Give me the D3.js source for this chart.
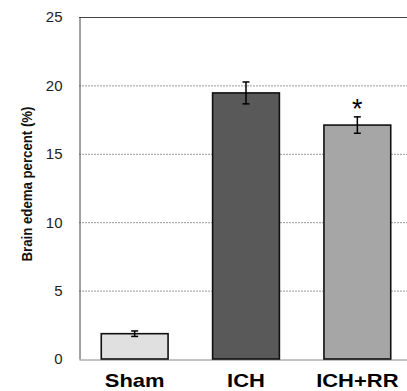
<!DOCTYPE html>
<html>
<head>
<meta charset="utf-8">
<script src="https://cdn.jsdelivr.net/npm/d3@7"></script>
<style>
  body { margin: 0; background: #fff; }
  svg { display: block; }
</style>
</head>
<body>
<div id="viz_tool"></div>
<script>
// data
var groups = ["Sham", "ICH", "ICH+RR"];
var means = [1.85, 19.45, 17.1];
var errors = [0.2, 0.8, 0.6];
var fills = ["#e0e0e0", "#595959", "#a6a6a6"];
var marks = ["", "", "*"];
var yTicks = [0, 5, 10, 15, 20, 25];

var W = 407, H = 391;
var margin = {top: 17, right: -6, bottom: 32, left: 79},
    width = W - margin.left - margin.right,
    height = H - margin.top - margin.bottom;

var svg = d3.select("#viz_tool")
  .append("svg")
    .attr("width", W)
    .attr("height", H)
  .append("g")
    .attr("transform", "translate(" + margin.left + "," + margin.top + ")");

var xScale = d3.scaleBand()
               .domain(groups)
               .range([0, width])
               .paddingInner(0.4)
               .paddingOuter(0.2);

var yScale = d3.scaleLinear()
               .domain([0, 25])
               .range([height, 0]);

// dashed gridlines
svg.append("g")
   .selectAll("line")
   .data(yTicks.filter(function(t) { return t > 0 && t < 25; }))
   .enter()
   .append("line")
   .attr("x1", 0)
   .attr("x2", width)
   .attr("y1", function(d) { return yScale(d) + 0.5; })
   .attr("y2", function(d) { return yScale(d) + 0.5; })
   .attr("stroke", "#9a9a9a")
   .attr("stroke-dasharray", "2,1");

// top border
svg.append("line")
   .attr("x1", 0).attr("x2", width)
   .attr("y1", yScale(25) + 0.5).attr("y2", yScale(25) + 0.5)
   .attr("stroke", "#444");

// y axis
var yAxis = svg.append("g")
   .attr("transform", "translate(0.5,0)")
   .call(d3.axisLeft(yScale).tickValues(yTicks).tickSize(0).tickPadding(17));
yAxis.select(".domain").attr("stroke", "#444");
yAxis.selectAll("text")
   .attr("font-family", "Liberation Sans, Arial, sans-serif")
   .attr("font-size", "15px")
   .attr("fill", "#222");

// x axis, labels are stretched sideways like in the original
var xAxis = svg.append("g")
   .attr("transform", "translate(0," + (height + 0.5) + ")")
   .call(d3.axisBottom(xScale).tickSize(0).tickPadding(15));
xAxis.select(".domain").attr("stroke", "#888");
xAxis.selectAll(".tick text")
   .attr("font-family", "Liberation Sans, Arial, sans-serif")
   .attr("font-size", "18px")
   .attr("font-weight", "bold")
   .attr("fill", "#000")
   .attr("transform", "scale(1.22,1)");

// bars
svg.selectAll(".bar")
   .data(groups)
   .enter()
   .append("rect")
   .attr("class", "bar")
   .attr("x", function(d) { return xScale(d); })
   .attr("y", function(d, i) { return yScale(means[i]); })
   .attr("width", xScale.bandwidth())
   .attr("height", function(d, i) { return height - yScale(means[i]); })
   .attr("fill", function(d, i) { return fills[i]; })
   .attr("stroke", "#111")
   .attr("stroke-width", 1.6);

// error bars
var eb = svg.selectAll(".err")
   .data(groups)
   .enter()
   .append("g")
   .attr("class", "err")
   .attr("stroke", "#000")
   .attr("stroke-width", 1.5);
eb.append("line")
   .attr("x1", function(d) { return xScale(d) + xScale.bandwidth() / 2; })
   .attr("x2", function(d) { return xScale(d) + xScale.bandwidth() / 2; })
   .attr("y1", function(d, i) { return yScale(means[i] + errors[i]); })
   .attr("y2", function(d, i) { return yScale(means[i] - errors[i]); });
[1, -1].forEach(function(s) {
  eb.append("line")
     .attr("x1", function(d) { return xScale(d) + xScale.bandwidth() / 2 - 3.5; })
     .attr("x2", function(d) { return xScale(d) + xScale.bandwidth() / 2 + 3.5; })
     .attr("y1", function(d, i) { return yScale(means[i] + s * errors[i]); })
     .attr("y2", function(d, i) { return yScale(means[i] + s * errors[i]); });
});

// significance marks
svg.selectAll(".mark")
   .data(groups)
   .enter()
   .append("text")
   .attr("class", "mark")
   .attr("x", function(d) { return xScale(d) + xScale.bandwidth() / 2; })
   .attr("y", function(d, i) { return yScale(means[i] + errors[i]) + 1; })
   .attr("text-anchor", "middle")
   .attr("font-family", "Liberation Sans, Arial, sans-serif")
   .attr("font-size", "27px")
   .attr("fill", "#000")
   .text(function(d, i) { return marks[i]; });

// text label for the y axis
svg.append("text")
   .attr("transform", "rotate(-90)")
   .attr("y", 27 - margin.left)
   .attr("x", -(184 - margin.top))
   .attr("dy", "0.35em")
   .attr("font-family", "Liberation Sans, Arial, sans-serif")
   .attr("font-size", "15px")
   .attr("font-weight", "bold")
   .attr("textLength", 155)
   .attr("lengthAdjust", "spacingAndGlyphs")
   .attr("fill", "#111")
   .style("text-anchor", "middle")
   .text("Brain edema percent (%)");
</script>
</body>
</html>
